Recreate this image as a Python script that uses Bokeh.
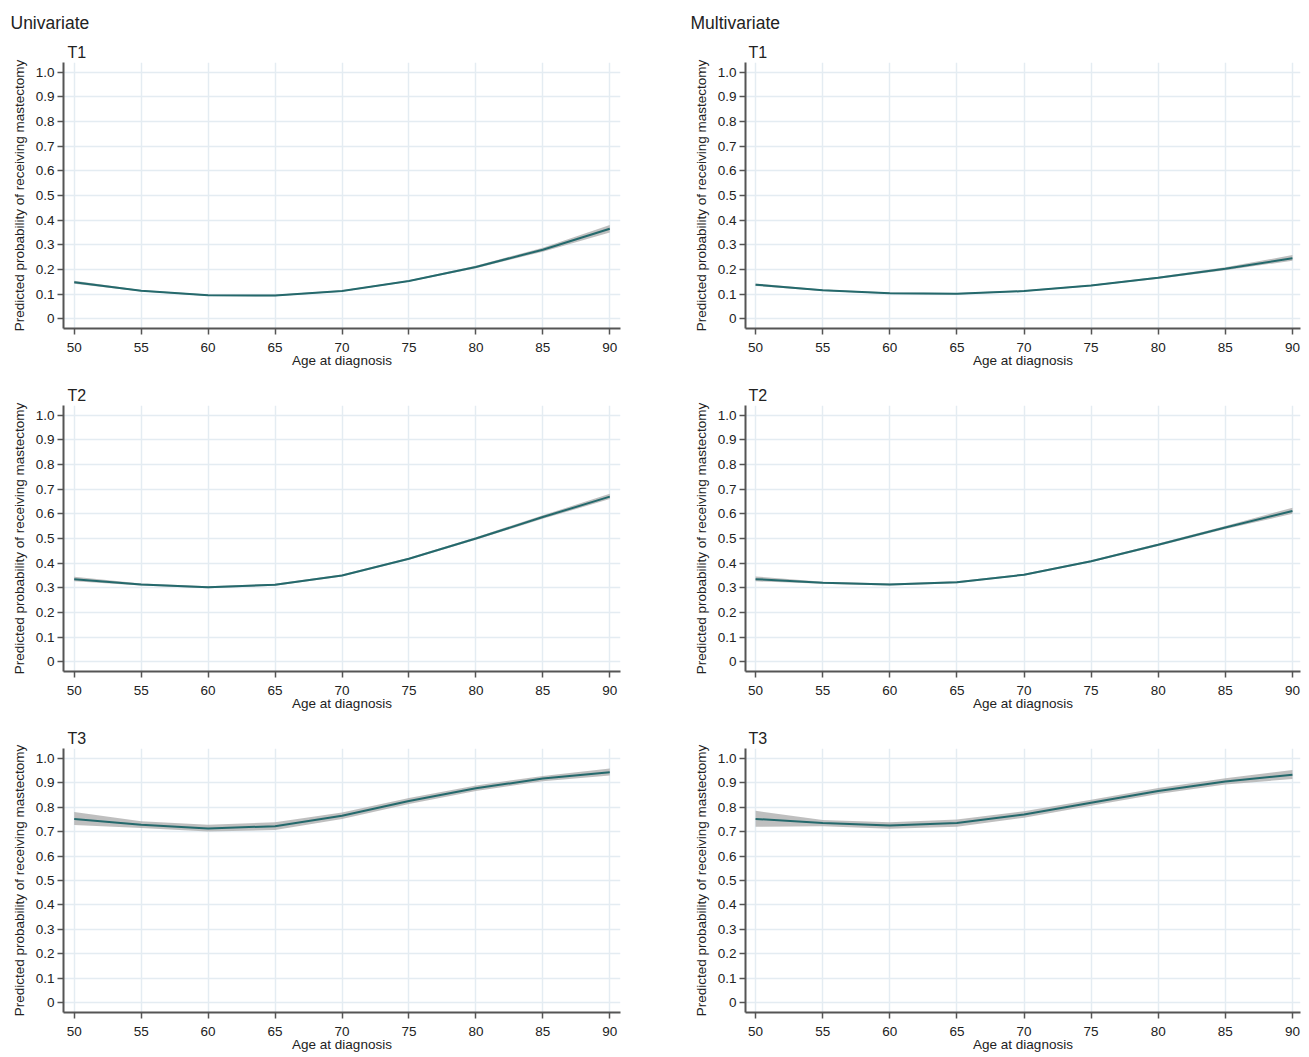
from bokeh.plotting import figure
from bokeh.layouts import row, column
from bokeh.models import FixedTicker, Title, Range1d
from bokeh.embed import file_html
from bokeh.resources import INLINE

ages = [50, 55, 60, 65, 70, 75, 80, 85, 90]

# Univariate
uni_t1 = [0.148, 0.113, 0.095, 0.094, 0.112, 0.153, 0.210, 0.280, 0.365]
uni_t1_lo = [0.142, 0.110, 0.092, 0.091, 0.109, 0.150, 0.205, 0.272, 0.350]
uni_t1_hi = [0.154, 0.116, 0.098, 0.097, 0.115, 0.156, 0.215, 0.288, 0.380]

uni_t2 = [0.335, 0.313, 0.302, 0.312, 0.350, 0.418, 0.500, 0.587, 0.670]
uni_t2_lo = [0.326, 0.309, 0.298, 0.308, 0.346, 0.414, 0.495, 0.580, 0.660]
uni_t2_hi = [0.345, 0.317, 0.306, 0.316, 0.354, 0.422, 0.505, 0.594, 0.682]

uni_t3 = [0.752, 0.728, 0.713, 0.722, 0.765, 0.825, 0.877, 0.917, 0.943]
uni_t3_lo = [0.727, 0.715, 0.700, 0.707, 0.752, 0.813, 0.866, 0.906, 0.930]
uni_t3_hi = [0.780, 0.742, 0.728, 0.738, 0.778, 0.837, 0.889, 0.928, 0.958]

# Multivariate
mul_t1 = [0.138, 0.115, 0.103, 0.101, 0.112, 0.135, 0.166, 0.203, 0.245]
mul_t1_lo = [0.133, 0.112, 0.100, 0.098, 0.109, 0.132, 0.162, 0.197, 0.235]
mul_t1_hi = [0.143, 0.118, 0.106, 0.104, 0.115, 0.138, 0.170, 0.209, 0.258]

mul_t2 = [0.335, 0.320, 0.313, 0.322, 0.353, 0.408, 0.475, 0.545, 0.612]
mul_t2_lo = [0.326, 0.316, 0.309, 0.318, 0.349, 0.404, 0.470, 0.539, 0.600]
mul_t2_hi = [0.346, 0.324, 0.317, 0.326, 0.357, 0.412, 0.480, 0.551, 0.625]

mul_t3 = [0.752, 0.735, 0.725, 0.735, 0.770, 0.818, 0.866, 0.905, 0.933]
mul_t3_lo = [0.720, 0.722, 0.712, 0.720, 0.757, 0.806, 0.854, 0.893, 0.915]
mul_t3_hi = [0.785, 0.748, 0.738, 0.750, 0.783, 0.830, 0.878, 0.918, 0.952]

y_ticks = [0, 0.1, 0.2, 0.3, 0.4, 0.5, 0.6, 0.7, 0.8, 0.9, 1.0]
y_labels = ["0", "0.1", "0.2", "0.3", "0.4", "0.5", "0.6", "0.7", "0.8", "0.9", "1.0"]
x_ticks = [50, 55, 60, 65, 70, 75, 80, 85, 90]

FONT = "Liberation Sans"
TXT = "#222222"
LINE = "#24696c"
BAND = "#a9a9a9"
GRID = "#e4ecf2"
AXIS = "#555555"


def panel(title, y, lo, hi, width, left_border, right_border, top, bottom,
          x_lo, x_hi, title_offset, header=None, header_offset=0):
    frame_h = 266
    p = figure(width=width, height=top + frame_h + bottom,
               output_backend="svg", toolbar_location=None,
               x_range=Range1d(x_lo, x_hi), y_range=Range1d(-0.04, 1.04),
               min_border_left=left_border, min_border_right=right_border,
               min_border_top=top, min_border_bottom=bottom,
               title=None)
    p.add_layout(Title(text=title, text_font=FONT, text_font_size="16px",
                       text_font_style="normal", text_color=TXT,
                       offset=title_offset, standoff=3), "above")
    if header is not None:
        p.add_layout(Title(text=header, text_font=FONT, text_font_size="17.5px",
                           text_font_style="normal", text_color=TXT,
                           offset=header_offset, standoff=16), "above")
    p.outline_line_color = None
    p.background_fill_color = "white"
    p.border_fill_color = "white"

    p.varea(x=ages, y1=lo, y2=hi, fill_color=BAND, fill_alpha=0.75)
    p.line(x=ages, y=y, line_color=LINE, line_width=2)

    p.xaxis.ticker = FixedTicker(ticks=x_ticks)
    p.yaxis.ticker = FixedTicker(ticks=y_ticks)
    p.yaxis.major_label_overrides = {t: l for t, l in zip(y_ticks, y_labels)}
    p.xaxis.axis_label = "Age at diagnosis"
    p.yaxis.axis_label = "Predicted probability of receiving mastectomy"
    for ax in (p.xaxis, p.yaxis):
        ax.axis_line_color = AXIS
        ax.axis_line_width = 2
        ax.major_tick_line_color = AXIS
        ax.major_tick_line_width = 1.5
        ax.major_tick_out = 6
        ax.major_tick_in = 0
        ax.minor_tick_line_color = None
        ax.major_label_text_font = FONT
        ax.major_label_text_font_size = "13.5px"
        ax.major_label_text_color = TXT
        ax.axis_label_text_font = FONT
        ax.axis_label_text_font_style = "normal"
        ax.axis_label_text_color = TXT
    p.xaxis.axis_label_text_font_size = "13.5px"
    p.yaxis.axis_label_text_font_size = "13.5px"
    p.xaxis.major_label_standoff = 8
    p.xaxis.axis_label_standoff = -2
    p.yaxis.major_label_standoff = 3
    p.yaxis.axis_label_standoff = 6
    p.yaxis.major_label_orientation = "horizontal"

    p.xgrid.grid_line_color = GRID
    p.ygrid.grid_line_color = GRID
    p.xgrid.grid_line_width = 1.5
    p.ygrid.grid_line_width = 1.5
    return p


left_w = 640
right_w = 665
LB, LR = 63, 20
RB, RR = 105, 5
u1 = panel("T1", uni_t1, uni_t1_lo, uni_t1_hi, left_w, LB, LR, 62, 51, 49.2, 90.8, 4,
           header="Univariate", header_offset=-53)
u2 = panel("T2", uni_t2, uni_t2_lo, uni_t2_hi, left_w, LB, LR, 26, 51, 49.2, 90.8, 4)
u3 = panel("T3", uni_t3, uni_t3_lo, uni_t3_hi, left_w, LB, LR, 26, 40, 49.2, 90.8, 4)
m1 = panel("T1", mul_t1, mul_t1_lo, mul_t1_hi, right_w, RB, RR, 62, 51, 49.25, 90.6, 3,
           header="Multivariate", header_offset=-55)
m2 = panel("T2", mul_t2, mul_t2_lo, mul_t2_hi, right_w, RB, RR, 26, 51, 49.25, 90.6, 3)
m3 = panel("T3", mul_t3, mul_t3_lo, mul_t3_hi, right_w, RB, RR, 26, 40, 49.25, 90.6, 3)

layout = row(column(u1, u2, u3, spacing=0), column(m1, m2, m3, spacing=0), spacing=0)

open("out.html", "w").write(file_html(layout, INLINE))
